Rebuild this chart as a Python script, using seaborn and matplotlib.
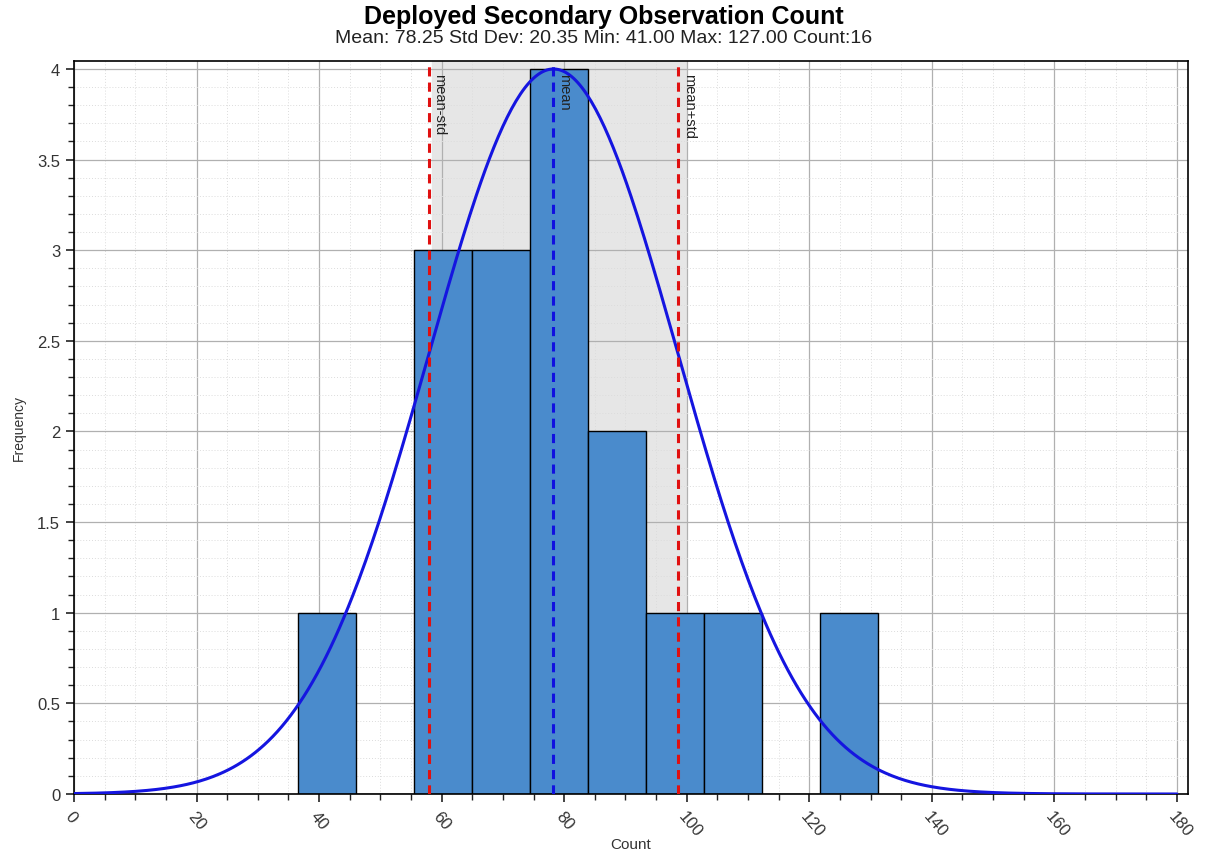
import numpy as np
import pandas as pd
import matplotlib
matplotlib.use("Agg")
import matplotlib.pyplot as plt
import seaborn as sns
from matplotlib.ticker import MultipleLocator

# ---- data ----
bin_edges = [36.5, 45.97, 55.44, 64.91, 74.38, 83.85, 93.32, 102.79, 112.26, 121.73, 131.2]
counts = [1, 0, 3, 3, 4, 2, 1, 1, 0, 1]
mean_val = 78.25
std_val = 20.35
min_val = 41.00
max_val = 127.00
n_count = 16
x_ticks = [0, 20, 40, 60, 80, 100, 120, 140, 160, 180]
y_ticks = [0, 0.5, 1, 1.5, 2, 2.5, 3, 3.5, 4]

sns.set_theme(style="white")
plt.rcParams['font.family'] = ['Liberation Sans', 'DejaVu Sans']

centers = [(a + b) / 2 for a, b in zip(bin_edges[:-1], bin_edges[1:])]
df = pd.DataFrame({"center": centers, "count": counts})

fig = plt.figure(figsize=(12.08, 8.54), dpi=100)
ax = fig.add_axes([0.0613, 0.0691, 0.9834 - 0.0613, 0.9274 - 0.0691])

# shaded +-1 std band
ax.axvspan(mean_val - std_val + 0.6, mean_val + std_val + 1.2, color="#e6e6e6", zorder=0)

sns.histplot(data=df, x="center", weights="count", bins=bin_edges, ax=ax,
             color="#4a8bcc", alpha=1.0, edgecolor="black", linewidth=1.0, zorder=2)

# fitted normal curve scaled to peak count
xs = np.linspace(0, 180, 500)
peak = max(counts)
ys = peak * np.exp(-0.5 * ((xs - mean_val) / std_val) ** 2)
sns.lineplot(x=xs, y=ys, ax=ax, color="#1515e0", linewidth=2.2, zorder=4)

ax.axvline(mean_val - std_val, color="#e01010", linestyle=(0, (3, 2)), linewidth=2.2, zorder=5)
ax.axvline(mean_val + std_val, color="#e01010", linestyle=(0, (3, 2)), linewidth=2.2, zorder=5)
ax.axvline(mean_val, color="#1010e0", linestyle=(0, (3, 2)), linewidth=2.2, zorder=5)

for xv, lab in [(mean_val - std_val, "mean-std"), (mean_val, "mean"), (mean_val + std_val, "mean+std")]:
    ax.text(xv + 0.6, 3.98, lab, rotation=270, va="top", ha="left", fontsize=10.5,
            color="#222222", zorder=6)

ax.set_xlim(0, 181.8)
ax.set_ylim(0, 4.044)
ax.set_xticks(x_ticks)
ax.set_yticks(y_ticks)
ax.set_yticklabels([f"{v:g}" for v in y_ticks])
ax.xaxis.set_minor_locator(MultipleLocator(5))
ax.yaxis.set_minor_locator(MultipleLocator(0.1))

ax.grid(which="major", color="#b0b0b0", linewidth=0.9, zorder=1)
ax.grid(which="minor", color="#dcdcdc", linestyle=(0, (1, 2)), linewidth=0.7, zorder=1)
ax.set_axisbelow(True)

ax.tick_params(which="major", direction="out", length=6, width=1.2, color="#222222",
               labelsize=12, labelcolor="#333333", bottom=True, left=True, pad=4)
ax.tick_params(which="minor", direction="out", length=4, width=1.0, color="#222222",
               bottom=True, left=True)
plt.setp(ax.get_xticklabels(), rotation=-50, ha="left", rotation_mode="anchor")

for s in ax.spines.values():
    s.set_color("black")
    s.set_linewidth(1.2)

ax.set_xlabel("Count", fontsize=11, color="#333333", labelpad=2)
ax.set_ylabel("Frequency", fontsize=10, color="#333333", labelpad=6)
ax.xaxis.set_label_coords(0.5, -0.058)
ax.yaxis.set_label_coords(-0.043, 0.5)

fig.text(0.5, 0.980, "Deployed Secondary Observation Count", ha="center", va="center",
         fontsize=18, fontweight="bold", color="black")
fig.text(0.5, 0.9545,
         f"Mean: {mean_val:.2f} Std Dev: {std_val:.2f} Min: {min_val:.2f} Max: {max_val:.2f} Count:{n_count}",
         ha="center", va="center", fontsize=14, color="#222222")

fig.savefig("out.png", dpi=100)
